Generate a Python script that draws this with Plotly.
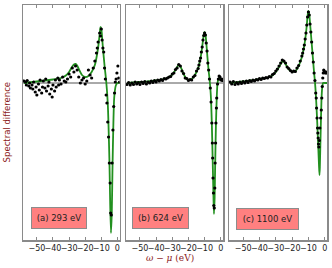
import plotly.graph_objects as go

# ---------------- data ----------------
x_ticks = [-50, -40, -30, -20, -10, 0]
panel_labels = ["(a) 293 eV", "(b) 624 eV", "(c) 1100 eV"]

# fitted curves (x, y)
curve_a_x = [-58, -50, -45, -40, -35, -32, -30, -28, -27, -26, -25, -24, -22, -20, -18, -16, -14, -12, -11, -10.5, -10, -9, -8, -7, -6, -5, -4.5, -4, -3.5, -3, -2.5, -2, -1, 0, 1.5]
curve_a_y = [0.0, 0.03, 0.05, 0.07, 0.1, 0.15, 0.22, 0.33, 0.37, 0.38, 0.35, 0.28, 0.16, 0.12, 0.14, 0.22, 0.36, 0.7, 0.98, 1.12, 1.08, 0.7, 0.35, 0.05, -0.4, -1.5, -2.4, -3.0, -2.6, -1.6, -0.8, -0.3, -0.05, 0.0, 0.0]

curve_b_x = [-58, -50, -45, -40, -35, -32, -30, -28, -27, -26, -25, -24, -23, -22, -21, -20, -19, -18, -17, -16, -15, -14, -13, -12, -11, -10.5, -10, -9.5, -9, -8.5, -8, -7.5, -7, -6.5, -6, -5.5, -5, -4.5, -4.2, -3.8, -3.5, -3, -2.5, -2, -1.5, -1, -0.5, 0, 1.5]
curve_b_y = [0.0, 0.02, 0.03, 0.05, 0.08, 0.12, 0.17, 0.26, 0.32, 0.36, 0.33, 0.26, 0.18, 0.12, 0.08, 0.06, 0.06, 0.08, 0.11, 0.16, 0.22, 0.3, 0.42, 0.6, 0.85, 0.97, 1.02, 0.97, 0.82, 0.62, 0.42, 0.24, 0.1, -0.08, -0.35, -0.85, -1.55, -2.3, -2.62, -2.3, -1.7, -0.85, -0.3, 0.0, 0.08, 0.1, 0.08, 0.06, 0.05]

curve_c_x = [-58, -50, -45, -40, -35, -32, -30, -28, -27, -26, -25.5, -25, -24, -23, -22, -21, -20, -19, -18, -17, -16, -15, -14, -13, -12, -11, -10.5, -10, -9.5, -9, -8.5, -8, -7.5, -7, -6.5, -6, -5.5, -5, -4.5, -4, -3.5, -3.2, -3, -2.5, -2, -1.5, -1, 0, 1.5]
curve_c_y = [0.0, 0.03, 0.05, 0.08, 0.11, 0.15, 0.22, 0.32, 0.38, 0.43, 0.44, 0.43, 0.38, 0.32, 0.27, 0.24, 0.23, 0.23, 0.24, 0.28, 0.34, 0.42, 0.52, 0.66, 0.86, 1.15, 1.35, 1.44, 1.38, 1.2, 1.0, 0.8, 0.6, 0.4, 0.2, 0.03, -0.2, -0.5, -0.85, -1.25, -1.65, -1.84, -1.7, -1.0, -0.35, -0.08, 0.0, 0.0, 0.0]

# measured points (x, y)
points_a = [(-58, 0.04), (-57, 0.02), (-56.5, -0.04), (-56, 0.05), (-55, -0.06), (-54.5, 0.0), (-54, -0.1), (-53, -0.04),
            (-52.5, -0.12), (-52, 0.02), (-51, -0.18), (-50.5, -0.08), (-50, -0.24), (-49, -0.02), (-48.5, -0.14), (-48, 0.06),
            (-47, -0.2), (-46.5, -0.08), (-46, 0.04), (-45, -0.1), (-44.5, 0.08), (-44, -0.16), (-43, -0.06), (-42.5, 0.02),
            (-42, -0.22), (-41, -0.12), (-40.5, -0.28), (-40, -0.04), (-39, -0.16), (-38.5, 0.06), (-38, -0.08), (-37, 0.1),
            (-36.5, -0.04), (-36, 0.06), (-35, -0.02), (-34, 0.12), (-33, 0.04), (-32, 0.02), (-31, 0.08), (-30, 0.18),
            (-29, 0.12), (-28, 0.3), (-27, 0.22), (-26, 0.34), (-25, 0.26), (-24, 0.12), (-23, 0.0), (-22, 0.06),
            (-21, 0.1), (-20, -0.02), (-19, 0.04), (-18, 0.26), (-17, 0.16), (-16, 0.1), (-15, 0.3), (-14, 0.44),
            (-13, 0.6), (-12.5, 0.7), (-12, 0.82), (-11, 1.0), (-10.5, 0.94), (-10, 1.08), (-9.5, 0.86), (-9, 0.7),
            (-8.5, 0.62), (-8, 0.3), (-7.5, 0.08), (-7, -0.24), (-6.5, -0.4), (-6, -0.78), (-5.5, -1.08), (-5, -1.6),
            (-4.5, -2.0), (-4.2, -2.6), (-3.8, -2.64), (-3.3, -1.6), (-2.8, -0.94), (-2.3, -0.47), (-1.8, -0.2), (-1.3, 0.02),
            (-0.8, 0.08), (-0.3, 0.2), (0.3, 0.34), (0.8, 0.1), (1.3, 0.02)]

points_b = [(-58, -0.03), (-57, 0.01), (-56, -0.04), (-55, 0.0), (-54, -0.03), (-53, 0.02), (-52, -0.02), (-51, 0.01),
            (-50, -0.03), (-49, 0.02), (-48, -0.01), (-47, 0.03), (-46, -0.02), (-45, 0.02), (-44, 0.0), (-43, 0.04),
            (-42, 0.01), (-41, 0.05), (-40, 0.02), (-39, 0.06), (-38, 0.04), (-37, 0.07), (-36, 0.05), (-35, 0.09),
            (-34, 0.08), (-33, 0.1), (-32, 0.12), (-31, 0.13), (-30, 0.18), (-29, 0.2), (-28, 0.27), (-27, 0.3),
            (-26, 0.37), (-25, 0.34), (-24, 0.24), (-23, 0.19), (-22, 0.1), (-21, 0.09), (-20, 0.05), (-19, 0.07),
            (-18, 0.06), (-17, 0.12), (-16, 0.15), (-15, 0.24), (-14, 0.29), (-13.5, 0.36), (-13, 0.44), (-12.5, 0.5),
            (-12, 0.62), (-11.5, 0.72), (-11, 0.86), (-10.5, 0.95), (-10, 1.0), (-9.5, 0.96), (-9, 0.8), (-8.5, 0.64),
            (-8, 0.4), (-7.5, 0.26), (-7, 0.08), (-6.5, -0.1), (-6, -0.38), (-5.5, -0.8), (-5.2, -1.2), (-5, -1.5),
            (-4.8, -1.9), (-4.5, -2.2), (-4.3, -2.45), (-4, -2.5), (-3.7, -2.1), (-3.5, -1.6), (-3.2, -1.2), (-3, -0.8),
            (-2.7, -0.5), (-2.5, -0.3), (-2, -0.02), (-1.5, 0.08), (-1, 0.14), (-0.5, 0.12), (0, 0.06), (0.5, 0.08), (1, 0.05)]

points_c = [(-58, 0.02), (-57, -0.02), (-56, 0.03), (-55, -0.03), (-54, 0.01), (-53, -0.02), (-52, 0.02), (-51, -0.01),
            (-50, 0.03), (-49, 0.0), (-48, 0.04), (-47, 0.01), (-46, 0.05), (-45, 0.03), (-44, 0.06), (-43, 0.04),
            (-42, 0.07), (-41, 0.06), (-40, 0.09), (-39, 0.07), (-38, 0.1), (-37, 0.09), (-36, 0.11), (-35, 0.1),
            (-34, 0.13), (-33, 0.12), (-32, 0.17), (-31, 0.19), (-30, 0.24), (-29, 0.28), (-28, 0.34), (-27, 0.4),
            (-26, 0.46), (-25, 0.44), (-24, 0.4), (-23, 0.32), (-22, 0.29), (-21, 0.25), (-20, 0.22), (-19, 0.24),
            (-18, 0.23), (-17, 0.3), (-16, 0.35), (-15, 0.44), (-14, 0.54), (-13.5, 0.6), (-13, 0.68), (-12.5, 0.76),
            (-12, 0.88), (-11.5, 1.0), (-11, 1.16), (-10.5, 1.32), (-10, 1.42), (-9.5, 1.36), (-9, 1.18), (-8.5, 1.02),
            (-8, 0.82), (-7.5, 0.6), (-7, 0.42), (-6.5, 0.2), (-6, 0.05), (-5.5, -0.2), (-5.2, -0.3), (-5, -0.5),
            (-4.7, -0.7), (-4.4, -0.9), (-4.2, -1.0), (-4, -1.1), (-3.8, -1.22), (-3.6, -1.28), (-3.3, -1.15), (-3, -0.9),
            (-2.5, -0.7), (-2.1, -0.54), (-1.8, -0.3), (-1.5, -0.07), (-1.2, 0.1), (-0.9, 0.2), (-0.6, 0.26), (-0.3, 0.24),
            (0, 0.22), (0.4, 0.2), (0.8, 0.22), (1.1, 0.2)]

curves = [(curve_a_x, curve_a_y), (curve_b_x, curve_b_y), (curve_c_x, curve_c_y)]
points = [points_a, points_b, points_c]
label_x = [-36.4, -37.3, -35.0]
label_y = [-2.70, -2.70, -2.72]
label_w = [52, 53, 59]

# ---------------- figure ----------------
X_RANGE = [-58.6, 1.4]
Y_RANGE = [-3.14, 1.56]
domains = [[0.0, 0.318], [0.339, 0.658], [0.678, 1.0]]
FRAME = "#8a8a8a"
DARKRED = "#8b1a1a"

fig = go.Figure()
layout = dict(
    width=332, height=268,
    margin=dict(l=23, r=5, t=5, b=28, autoexpand=False),
    paper_bgcolor="white", plot_bgcolor="white",
    showlegend=False,
    font=dict(family="DejaVu Sans", size=8, color="#222"),
    shapes=[], annotations=[],
)

for i in range(3):
    xa = "x" if i == 0 else f"x{i+1}"
    ya = "y" if i == 0 else f"y{i+1}"
    cx, cy = curves[i]
    px = [p[0] for p in points[i]]
    py = [p[1] for p in points[i]]
    fig.add_trace(go.Scatter(x=cx, y=cy, mode="lines",
                             line=dict(color="#22901f", width=1.8, shape="spline", smoothing=0.6),
                             xaxis=xa, yaxis=ya, hoverinfo="skip"))
    fig.add_trace(go.Scatter(x=px, y=py, mode="markers",
                             marker=dict(color="black", size=3.2),
                             xaxis=xa, yaxis=ya, hoverinfo="skip"))
    key = "" if i == 0 else str(i + 1)
    layout["xaxis" + key] = dict(
        domain=domains[i], range=X_RANGE, anchor=ya,
        tickvals=x_ticks, ticks="inside", ticklen=3, tickcolor=FRAME,
        tickangle=0, automargin=False,
        showline=True, linecolor=FRAME, linewidth=1.5, mirror="allticks",
        showgrid=False, zeroline=False,
        tickfont=dict(size=8, color="#222", family="DejaVu Sans"),
    )
    layout["yaxis" + key] = dict(
        domain=[0, 1], range=Y_RANGE, anchor=xa,
        showticklabels=False, ticks="", automargin=False,
        showline=True, linecolor=FRAME, linewidth=1.5, mirror=True,
        showgrid=False, zeroline=False,
    )
    layout["shapes"].append(dict(type="line", xref=f"{xa} domain", yref=ya,
                                 x0=0, x1=1, y0=0, y1=0,
                                 line=dict(color="#555", width=1), layer="below"))
    layout["annotations"].append(dict(
        text=panel_labels[i], xref=xa, yref=ya, x=label_x[i], y=label_y[i],
        showarrow=False, width=label_w[i], height=18,
        bgcolor="#ff8080", bordercolor="#8c8c8c", borderwidth=1, borderpad=1,
        font=dict(size=8.5, color="#222", family="DejaVu Sans"),
    ))

layout["annotations"].append(dict(
    text="Spectral difference", xref="paper", yref="paper",
    x=-0.053, y=0.5, xanchor="center", yanchor="middle", textangle=-90,
    showarrow=False, font=dict(size=8.5, color=DARKRED, family="DejaVu Sans"),
))
layout["annotations"].append(dict(
    text="<i>ω</i> − <i>μ</i> (eV)", xref="paper", yref="paper",
    x=0.482, y=-0.077, xanchor="center", yanchor="middle",
    showarrow=False, font=dict(size=9, color=DARKRED, family="DejaVu Serif"),
))

fig.update_layout(**layout)
fig.write_html("out.html", config={"displayModeBar": False, "staticPlot": True},
               post_script="document.body.style.margin='0';document.body.style.overflow='hidden';")
